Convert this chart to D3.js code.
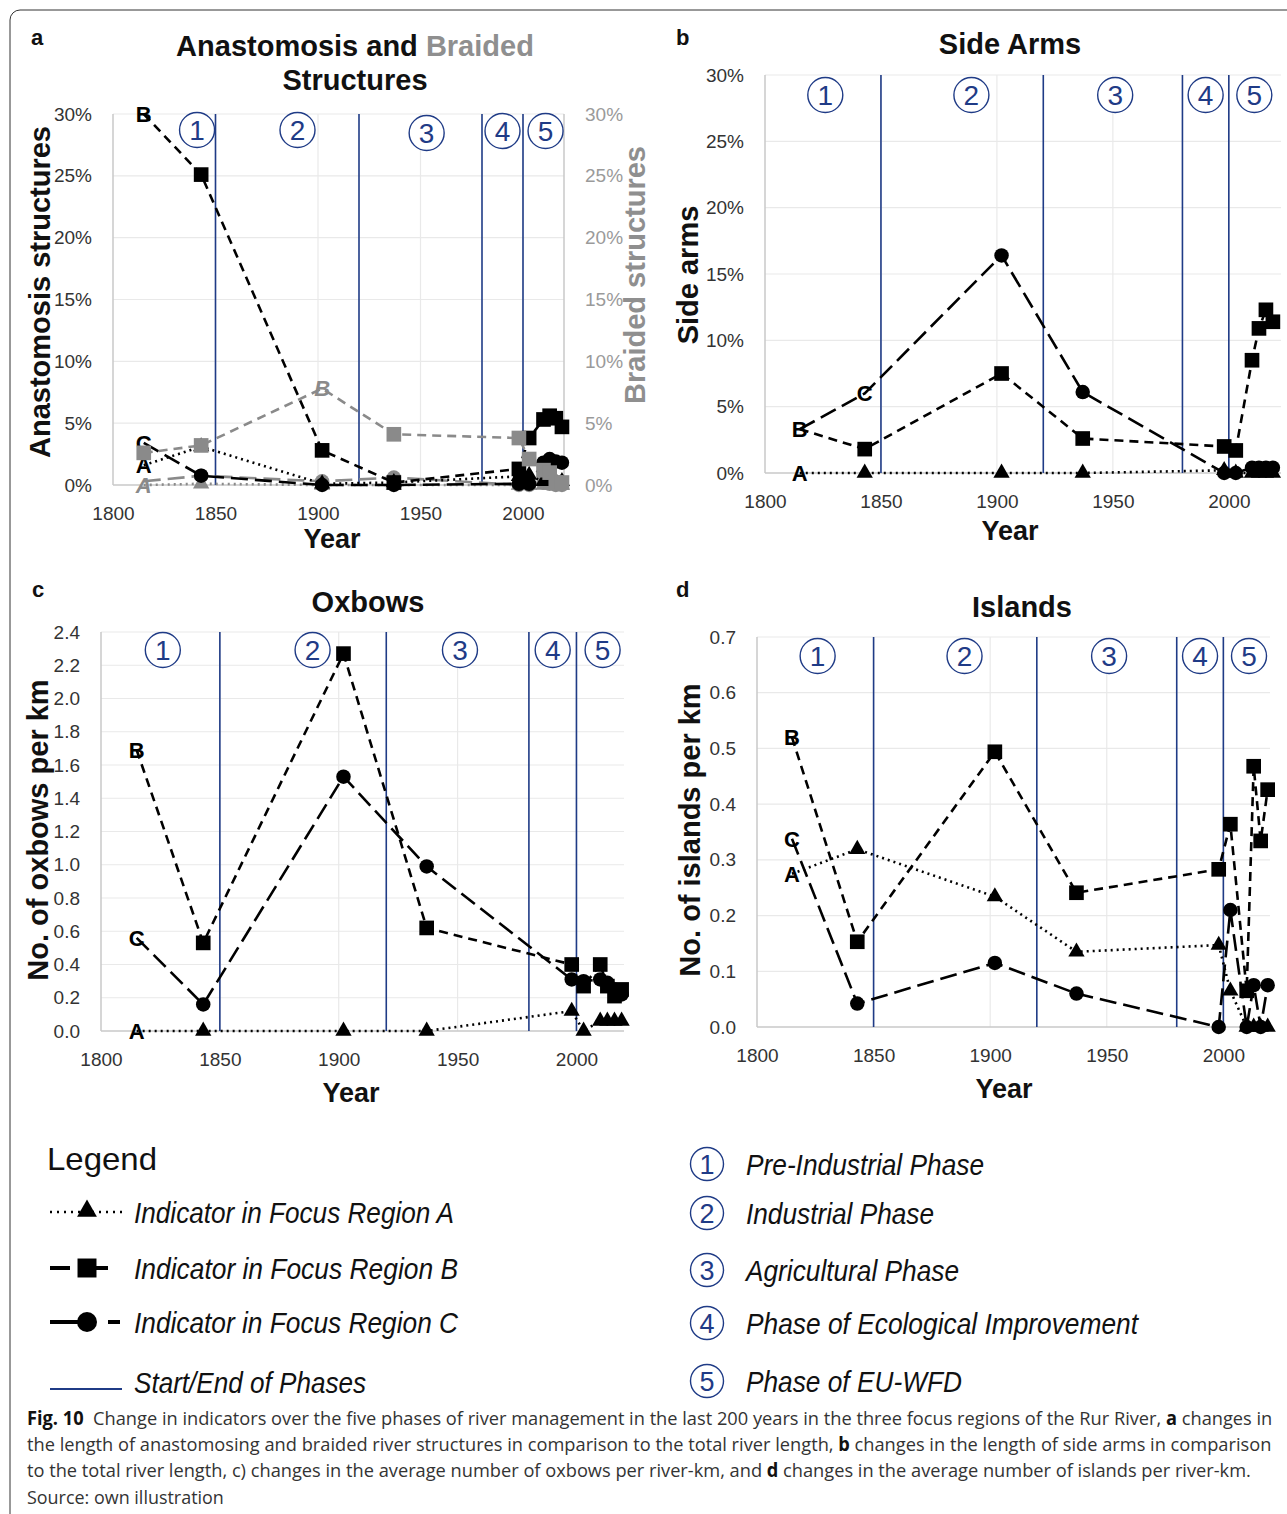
<!DOCTYPE html>
<html>
<head>
<meta charset="utf-8">
<script src="https://cdn.jsdelivr.net/npm/d3@7"></script>
<style>
  body { margin: 0; background: #fff; }
  svg { display: block; font-family: "Liberation Sans", Arial, sans-serif; }
</style>
</head>
<body>
<svg id="chart" width="1287" height="1514"></svg>
<script>
// survey years (same for every panel)
const years = [1815, 1843, 1902, 1937, 1998, 2003, 2010, 2013, 2016, 2019];
const yearTicks = [1800, 1850, 1900, 1950, 2000];
const phaseEnds = [1850, 1920, 1980, 2000];
const phaseNums = ["1", "2", "3", "4", "5"];
const phaseLabelYears = [1826, 1889, 1951, 1990, 2011];
const phaseLabelYearsA = [1841, 1890, 1953, 1990, 2011];
const phaseNames = ["Pre-Industrial Phase", "Industrial Phase", "Agricultural Phase",
  "Phase of Ecological Improvement", "Phase of EU-WFD"];
const legendNames = ["Indicator in Focus Region A", "Indicator in Focus Region B",
  "Indicator in Focus Region C", "Start/End of Phases"];

// a - anastomosis (black) and braided (grey), % of river length
const anastoA = [1.6, 3.1, 0.1, 0.2, 0.7, 0.8, 0.3, 0.3, 0.3, 0.3];
const anastoB = [30, 25.1, 2.8, 0.2, 1.3, 3.8, 5.3, 5.6, 5.4, 4.7];
const anastoC = [3.4, 0.75, 0, 0, 0.1, 0.1, 1.8, 2.1, 1.9, 1.8];
const braidA = [0, 0.1, 0, 0, 0, 0, 0, 0, 0, 0];
const braidB = [2.6, 3.2, 7.8, 4.1, 3.8, 2.1, 1.2, 1.0, 0.2, 0.2];
const braidC = [0.3, 0.75, 0.3, 0.6, 0, 0, 0.2, 0.1, 0, 0];
const pctTicks = [0, 5, 10, 15, 20, 25, 30];

// b - side arms, %
const sideA = [0, 0, 0, 0, 0.2, 0, 0, 0, 0, 0];
const sideB = [3.3, 1.8, 7.5, 2.6, 2.0, 1.7, 8.5, 10.9, 12.3, 11.4];
const sideC = [3.3, 6.0, 16.4, 6.1, 0, 0, 0.4, 0.4, 0.4, 0.4];

// c - oxbows per km
const oxA = [0, 0, 0, 0, 0.12, 0, 0.06, 0.06, 0.06, 0.06];
const oxB = [1.69, 0.53, 2.27, 0.62, 0.40, 0.27, 0.40, 0.27, 0.21, 0.25];
const oxC = [0.56, 0.16, 1.53, 0.99, 0.31, 0.30, 0.31, 0.29, 0.25, 0.22];
const oxTicks = [0, 0.2, 0.4, 0.6, 0.8, 1.0, 1.2, 1.4, 1.6, 1.8, 2.0, 2.2, 2.4];

// d - islands per km
const islA = [0.275, 0.319, 0.234, 0.135, 0.147, 0.065, 0, 0, 0, 0];
const islB = [0.52, 0.153, 0.494, 0.241, 0.283, 0.364, 0.065, 0.468, 0.334, 0.426];
const islC = [0.338, 0.042, 0.115, 0.06, 0, 0.21, 0, 0.075, 0, 0.075];
const islTicks = [0, 0.1, 0.2, 0.3, 0.4, 0.5, 0.6, 0.7];

const navy = "#1f3b86";
const grey = "#8a8a8a";

const svg = d3.select("#chart");

// outer frame of the figure
svg.append("rect")
  .attr("x", 10).attr("y", 10).attr("width", 1320).attr("height", 1540)
  .attr("rx", 10).attr("fill", "none").attr("stroke", "#333").attr("stroke-width", 1);

const styles = {
  A: { dash: "2,4", shape: d3.symbolTriangle, size: 115 },
  B: { dash: "9,6", shape: d3.symbolSquare, size: 215 },
  C: { dash: "17,7", shape: d3.symbolCircle, size: 165 }
};

function drawPanel(p) {
  const g = svg.append("g");
  const x = d3.scaleLinear().domain([1800, p.xmax]).range([p.x0, p.x1]);
  const y = d3.scaleLinear().domain([0, p.ymax]).range([p.y0, p.y1]);

  // grid
  g.selectAll(".hg").data(p.ticks.slice(1)).join("line")
    .attr("x1", p.x0).attr("x2", p.x1)
    .attr("y1", d => y(d)).attr("y2", d => y(d))
    .attr("stroke", "#e9e9e9").attr("stroke-width", 1.2);
  g.selectAll(".vg").data(yearTicks.slice(1)).join("line")
    .attr("x1", d => x(d)).attr("x2", d => x(d))
    .attr("y1", p.y0).attr("y2", p.y1)
    .attr("stroke", "#e9e9e9").attr("stroke-width", 1.2);

  // axes lines
  g.append("line").attr("x1", p.x0).attr("x2", p.x0).attr("y1", p.y0).attr("y2", p.y1)
    .attr("stroke", "#c8c8c8").attr("stroke-width", 1.5);
  g.append("line").attr("x1", p.x0).attr("x2", p.x1).attr("y1", p.y0).attr("y2", p.y0)
    .attr("stroke", "#c8c8c8").attr("stroke-width", 1.5);
  if (p.right) {
    g.append("line").attr("x1", p.x1).attr("x2", p.x1).attr("y1", p.y0).attr("y2", p.y1)
      .attr("stroke", "#c8c8c8").attr("stroke-width", 1.5);
  }

  const ya = g.append("g").attr("transform", `translate(${p.x0},0)`)
    .call(d3.axisLeft(y).tickValues(p.ticks).tickFormat(p.fmt).tickSize(0).tickPadding(21));
  ya.select(".domain").remove();
  ya.selectAll("text").attr("font-size", 19).attr("fill", "#333")
    .attr("font-family", "Liberation Sans, Arial, sans-serif");

  if (p.right) {
    const yr = g.append("g").attr("transform", `translate(${p.x1},0)`)
      .call(d3.axisRight(y).tickValues(p.ticks).tickFormat(p.fmt).tickSize(0).tickPadding(21));
    yr.select(".domain").remove();
    yr.selectAll("text").attr("font-size", 19).attr("fill", "#9a9a9a")
      .attr("font-family", "Liberation Sans, Arial, sans-serif");
  }

  const xa = g.append("g").attr("transform", `translate(0,${p.y0})`)
    .call(d3.axisBottom(x).tickValues(yearTicks).tickFormat(d3.format("d")).tickSize(0).tickPadding(22));
  xa.select(".domain").remove();
  xa.selectAll("text").attr("font-size", 19).attr("fill", "#333")
    .attr("font-family", "Liberation Sans, Arial, sans-serif");

  // phase boundaries
  g.selectAll(".ph").data(phaseEnds).join("line")
    .attr("x1", d => x(d)).attr("x2", d => x(d))
    .attr("y1", p.y0).attr("y2", p.y1)
    .attr("stroke", navy).attr("stroke-width", 1.6);

  const pl = g.selectAll(".pl").data(p.phaseYears).join("g")
    .attr("transform", (d, i) => `translate(${x(d)},${p.phaseY + (p.phaseDy ? p.phaseDy[i] : 0)})`);
  pl.append("circle").attr("r", 17.5).attr("fill", "#fff").attr("stroke", navy).attr("stroke-width", 1.4);
  pl.append("text").text((d, i) => phaseNums[i])
    .attr("text-anchor", "middle").attr("dy", "0.36em")
    .attr("font-size", 28).attr("fill", navy);

  // series
  p.series.forEach(s => {
    const st = styles[s.kind];
    const pts = years.map((yr, i) => ({ yr, v: s.values[i], i }));
    g.append("path").datum(pts)
      .attr("d", d3.line().x(d => x(d.yr)).y(d => y(d.v)))
      .attr("fill", "none").attr("stroke", s.color).attr("stroke-width", 2.6)
      .attr("stroke-dasharray", st.dash);
    g.selectAll(null).data(pts.filter(d => d.i !== s.labelAt && !(s.skip || []).includes(d.i)))
      .join("path")
      .attr("transform", d => `translate(${x(d.yr)},${y(d.v)})`)
      .attr("d", d3.symbol().type(st.shape).size(st.size))
      .attr("fill", s.color);
    if (s.label) {
      const d = pts[s.labelAt];
      g.append("text").text(s.label)
        .attr("x", x(d.yr)).attr("y", y(d.v)).attr("dy", "0.36em")
        .attr("text-anchor", "middle")
        .attr("font-size", 22).attr("font-weight", "bold")
        .attr("font-style", s.italic ? "italic" : "normal")
        .attr("fill", s.color);
    }
  });

  // texts
  svg.append("text").text(p.letter).attr("x", p.letterX).attr("y", p.letterY)
    .attr("font-size", 22).attr("font-weight", "bold").attr("fill", "#111");
  p.title.forEach(t => {
    const tt = svg.append("text").attr("x", t.x).attr("y", t.y).attr("text-anchor", "middle")
      .attr("dy", "0.36em").attr("font-size", 29).attr("font-weight", "bold").attr("fill", "#111");
    t.parts.forEach(pt => tt.append("tspan").text(pt[0]).attr("fill", pt[1]));
  });
  p.ytitles.forEach(t => {
    svg.append("text").text(t.text)
      .attr("transform", `translate(${t.x},${t.y}) rotate(-90)`)
      .attr("text-anchor", "middle").attr("dy", "0.36em")
      .attr("font-size", 29).attr("font-weight", "bold").attr("fill", t.color || "#111");
  });
  svg.append("text").text("Year").attr("x", p.yearX).attr("y", p.yearY)
    .attr("text-anchor", "middle").attr("dy", "0.36em")
    .attr("font-size", 27).attr("font-weight", "bold").attr("fill", "#111");
}

drawPanel({
  letter: "a", letterX: 31, letterY: 45,
  x0: 113, x1: 564, xmax: 2020, y0: 485, y1: 114, ymax: 30,
  ticks: pctTicks, fmt: d => d + "%", right: true,
  phaseYears: phaseLabelYearsA, phaseY: 130, phaseDy: [0, 0, 3, 1, 1],
  title: [
    { x: 355, y: 46, parts: [["Anastomosis and ", "#111"], ["Braided", "#8f8f8f"]] },
    { x: 355, y: 80, parts: [["Structures", "#111"]] }
  ],
  ytitles: [
    { text: "Anastomosis structures", x: 40, y: 292 },
    { text: "Braided structures", x: 635, y: 275, color: "#8f8f8f" }
  ],
  yearX: 332, yearY: 538,
  series: [
    { kind: "A", values: braidA, color: grey, label: "A", labelAt: 0, italic: true },
    { kind: "C", values: braidC, color: grey, label: "", labelAt: 0 },
    { kind: "A", values: anastoA, color: "#000", label: "A", labelAt: 0 },
    { kind: "C", values: anastoC, color: "#000", label: "C", labelAt: 0 },
    { kind: "B", values: anastoB, color: "#000", label: "B", labelAt: 0 },
    { kind: "B", values: braidB, color: grey, label: "B", labelAt: 2, italic: true }
  ]
});

drawPanel({
  letter: "b", letterX: 676, letterY: 45,
  x0: 765, x1: 1281, xmax: 2022.5, y0: 473, y1: 75, ymax: 30,
  ticks: pctTicks, fmt: d => d + "%",
  phaseYears: phaseLabelYears, phaseY: 95,
  title: [{ x: 1010, y: 44, parts: [["Side Arms", "#111"]] }],
  ytitles: [{ text: "Side arms", x: 688, y: 275 }],
  yearX: 1010, yearY: 530,
  series: [
    { kind: "A", values: sideA, color: "#000", label: "A", labelAt: 0 },
    { kind: "C", values: sideC, color: "#000", label: "C", labelAt: 1, skip: [0] },
    { kind: "B", values: sideB, color: "#000", label: "B", labelAt: 0 }
  ]
});

drawPanel({
  letter: "c", letterX: 32, letterY: 597,
  x0: 101, x1: 624, xmax: 2020, y0: 1031, y1: 632, ymax: 2.4,
  ticks: oxTicks, fmt: d3.format(".1f"),
  phaseYears: phaseLabelYears, phaseY: 650,
  title: [{ x: 368, y: 602, parts: [["Oxbows", "#111"]] }],
  ytitles: [{ text: "No. of oxbows per km", x: 38, y: 830 }],
  yearX: 351, yearY: 1092,
  series: [
    { kind: "A", values: oxA, color: "#000", label: "A", labelAt: 0 },
    { kind: "C", values: oxC, color: "#000", label: "C", labelAt: 0 },
    { kind: "B", values: oxB, color: "#000", label: "B", labelAt: 0 }
  ]
});

drawPanel({
  letter: "d", letterX: 676, letterY: 597,
  x0: 757, x1: 1270, xmax: 2020, y0: 1027, y1: 637, ymax: 0.7,
  ticks: islTicks, fmt: d3.format(".1f"),
  phaseYears: phaseLabelYears, phaseY: 656,
  title: [{ x: 1022, y: 607, parts: [["Islands", "#111"]] }],
  ytitles: [{ text: "No. of islands per km", x: 690, y: 830 }],
  yearX: 1004, yearY: 1088,
  series: [
    { kind: "A", values: islA, color: "#000", label: "A", labelAt: 0 },
    { kind: "C", values: islC, color: "#000", label: "C", labelAt: 0 },
    { kind: "B", values: islB, color: "#000", label: "B", labelAt: 0 }
  ]
});

// ---- legend (left) ----
svg.append("text").text("Legend").attr("x", 47).attr("y", 1158).attr("dy", "0.36em")
  .attr("font-size", 32).attr("fill", "#111").attr("textLength", 110)
  .attr("lengthAdjust", "spacingAndGlyphs");

const legRows = [1212, 1268, 1322, 1382];
const legWidths = [320, 324, 324, 232];
const lg = svg.append("g");
// A: dotted with triangle
lg.append("line").attr("x1", 50).attr("x2", 125).attr("y1", legRows[0]).attr("y2", legRows[0])
  .attr("stroke", "#000").attr("stroke-width", 2.6).attr("stroke-dasharray", "2,5");
lg.append("path").attr("transform", `translate(87,${legRows[0] - 1})`)
  .attr("d", d3.symbol().type(d3.symbolTriangle).size(170)).attr("fill", "#000");
// B: dash + square
lg.append("line").attr("x1", 50).attr("x2", 70).attr("y1", legRows[1]).attr("y2", legRows[1])
  .attr("stroke", "#000").attr("stroke-width", 4);
lg.append("line").attr("x1", 90).attr("x2", 108).attr("y1", legRows[1]).attr("y2", legRows[1])
  .attr("stroke", "#000").attr("stroke-width", 4);
lg.append("path").attr("transform", `translate(87,${legRows[1]})`)
  .attr("d", d3.symbol().type(d3.symbolSquare).size(360)).attr("fill", "#000");
// C: long dash + circle
lg.append("line").attr("x1", 50).attr("x2", 82).attr("y1", legRows[2]).attr("y2", legRows[2])
  .attr("stroke", "#000").attr("stroke-width", 4);
lg.append("line").attr("x1", 108).attr("x2", 120).attr("y1", legRows[2]).attr("y2", legRows[2])
  .attr("stroke", "#000").attr("stroke-width", 4);
lg.append("circle").attr("cx", 87).attr("cy", legRows[2]).attr("r", 10).attr("fill", "#000");
// phases
lg.append("line").attr("x1", 50).attr("x2", 122).attr("y1", legRows[3] + 7).attr("y2", legRows[3] + 7)
  .attr("stroke", navy).attr("stroke-width", 2);

lg.selectAll(".lt").data(legendNames).join("text")
  .text(d => d)
  .attr("x", 134).attr("y", (d, i) => legRows[i]).attr("dy", "0.36em")
  .attr("font-size", 30).attr("font-style", "italic").attr("fill", "#111")
  .attr("textLength", (d, i) => legWidths[i]).attr("lengthAdjust", "spacingAndGlyphs");

// ---- legend (right), phases ----
const phRows = [1164, 1213, 1270, 1323, 1381];
const phWidths = [238, 188, 213, 392, 216];
const pg = svg.selectAll(".phl").data(phaseNames).join("g")
  .attr("transform", (d, i) => `translate(707,${phRows[i]})`);
pg.append("circle").attr("r", 16.5).attr("fill", "none").attr("stroke", navy).attr("stroke-width", 1.4);
pg.append("text").text((d, i) => phaseNums[i]).attr("text-anchor", "middle").attr("dy", "0.36em")
  .attr("font-size", 27).attr("fill", navy);
pg.append("text").text(d => d).attr("x", 39).attr("dy", "0.36em")
  .attr("font-size", 30).attr("font-style", "italic").attr("fill", "#111")
  .attr("textLength", (d, i) => phWidths[i]).attr("lengthAdjust", "spacingAndGlyphs");

// ---- caption: one text per line, squeezed horizontally to the line width ----
const capLines = [
  { y: 1425, w: 1246, parts: [["Fig. 10", true], ["  Change in indicators over the five phases of river management in the last 200 years in the three focus regions of the Rur River, ", false], ["a", true], [" changes in", false]] },
  { y: 1451, w: 1246, parts: [["the length of anastomosing and braided river structures in comparison to the total river length, ", false], ["b", true], [" changes in the length of side arms in comparison", false]] },
  { y: 1477, w: 1225, parts: [["to the total river length, c) changes in the average number of oxbows per river-km, and ", false], ["d", true], [" changes in the average number of islands per river-km.", false]] },
  { y: 1504, w: 197, parts: [["Source: own illustration", false]] }
];
capLines.forEach(l => {
  const t = svg.append("text")
    .style("white-space", "pre")
    .attr("font-size", 19)
    .attr("font-family", "'Open Sans', 'Noto Sans', sans-serif")
    .attr("fill", "#333");
  l.parts.forEach(pt => t.append("tspan").text(pt[0])
    .attr("font-weight", pt[1] ? "bold" : "normal")
    .attr("fill", pt[1] ? "#111" : "#333"));
  const k = l.w / t.node().getComputedTextLength();
  t.attr("transform", `translate(27,${l.y}) scale(${k},1)`);
});
</script>
</body>
</html>
